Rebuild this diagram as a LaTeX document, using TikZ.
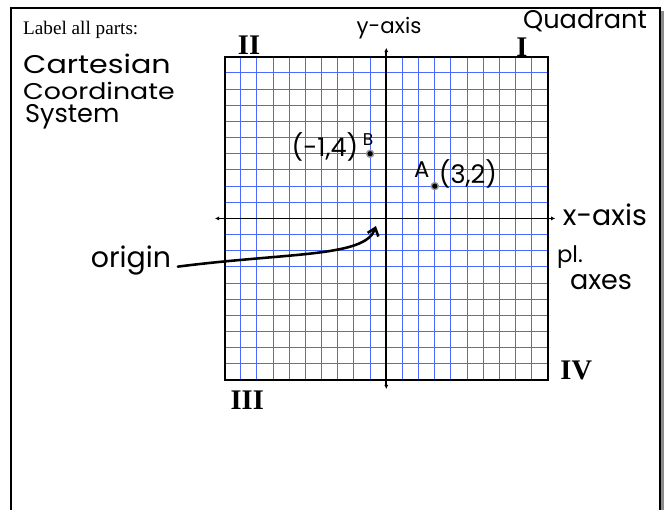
\documentclass[tikz,border=0pt]{standalone}
\usepackage{fontspec}
\setmainfont{Liberation Serif}
\newfontfamily\handfont{Poppins}
\newfontfamily\widehandfont[FakeStretch=1.18]{Poppins}
\usetikzlibrary{arrows.meta}
\definecolor{gridblue}{RGB}{75,105,255}

\begin{document}
\begin{tikzpicture}[x=0.4cm, y=0.4cm,
    hand/.style={font=\handfont\fontsize{#1}{#1}\selectfont, inner sep=0pt},
    hand/.default=20,
    widehand/.style={font=\widehandfont\fontsize{#1}{#1}\selectfont, inner sep=0pt},
    numeral/.style={font=\fontsize{20}{20}\selectfont\bfseries, inner sep=0pt},
    dot/.style={circle, fill=black, draw=black!40, line width=1pt, inner sep=0pt, minimum size=5pt}]
  \useasboundingbox (-23.89,-18.03) rectangle (17.36,13.51);
  % page frame with its shadow
  \fill[black!45] (16.97,12.85) rectangle (17.15,-19);
  \draw[line width=1.4pt] (-23.21,-19) -- (-23.21,13.01) -- (16.93,13.01) -- (16.93,-19);
  \node[anchor=base west, inner sep=0pt, font=\fontsize{13.5}{16}\selectfont] (task) at (-22.47,11.40) {Label all parts:};
  % grid and axes
  \draw[gridblue, line width=0.7pt, step={(1,1)}] (-10,-10) grid (10,10);
  \draw[line width=1.3pt] (-10,-10) rectangle (10,10);
  \draw[line width=1.3pt, {Latex[length=3pt,width=3pt]}-{Latex[length=3pt,width=3pt]}] (-10.6,0) -- (10.45,0);
  \draw[line width=1.3pt, {Latex[length=3pt,width=3pt]}-{Latex[length=3pt,width=3pt]}] (0,-10.55) -- (0,10.55);
  % title
  \node[widehand=18, anchor=base west] (cart) at (-22.47,8.99) {Cartesian};
  \node[widehand=16, anchor=base west] (coord) at (-22.47,7.38) {Coordinate};
  \node[hand=18, anchor=base west] (sys) at (-22.35,5.96) {System};
  % quadrants
  \node[hand=18, anchor=base] (quad) at (12.29,11.75) {Quadrant};
  \node[numeral] (q1) at (8.39,10.62) {I};
  \node[numeral] (q2) at (-8.49,10.72) {II};
  \node[numeral] (q3) at (-8.6,-11.23) {III};
  \node[numeral] (q4) at (11.75,-9.37) {IV};
  % axes labels
  \node[hand=15] (ylab) at (0.17,11.78) {y-axis};
  \node[hand] (xlab) at (13.52,0.21) {x-axis};
  \node[hand=16] (pl) at (11.36,-2.39) {pl.};
  \node[hand=19] (axes) at (13.28,-3.93) {axes};
  % points
  \node[dot] (B) at (-1,4) {};
  \node[hand=12] (Bname) at (-1.13,4.85) {B};
  \node[hand=18] (Bxy) at (-3.79,4.42) {(-1,4)};
  \node[dot] (A) at (3,2) {};
  \node[hand=16] (Aname) at (2.2,2.99) {A};
  \node[hand=18] (Axy) at (5.05,2.75) {(3,2)};
  % origin
  \node[hand=20] (orig) at (-15.79,-2.63) {origin};
  \coordinate (o) at (-0.64,-0.47);
  \draw[line width=1.8pt, line cap=round, -{Straight Barb[length=5pt,width=8pt]}] (orig.east) ++(0.4,-0.35) .. controls (-6,-2.1) and (-1.3,-2.4) .. (o);
\end{tikzpicture}
\end{document}
